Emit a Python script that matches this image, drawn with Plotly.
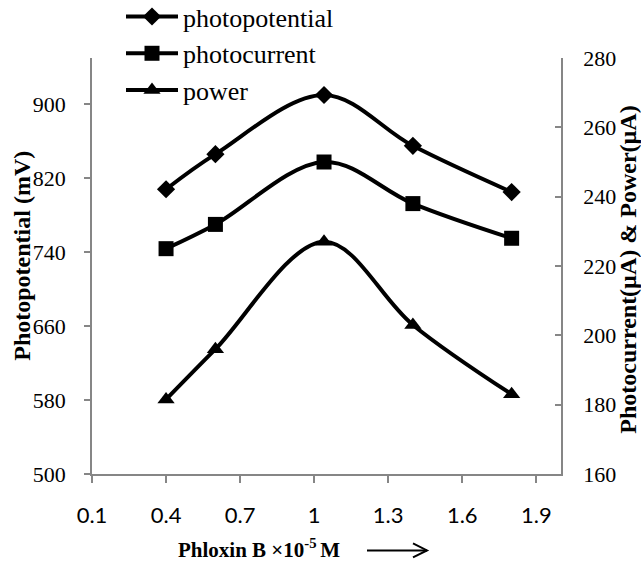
import plotly.graph_objects as go

# ---- data ----
conc = [0.4, 0.6, 1.04, 1.4, 1.8]
photopotential = [808, 846, 910, 855, 805]
photocurrent = [225, 232, 250, 238, 228]
power = [181.5, 196, 227, 203, 183]

x_ticks = [0.1, 0.4, 0.7, 1.0, 1.3, 1.6, 1.9]
x_ticktext = ["0.1", "0.4", "0.7", "1", "1.3", "1.6", "1.9"]
y_left_ticks = [500, 580, 660, 740, 820, 900]
y_right_ticks = [160, 180, 200, 220, 240, 260, 280]

AX = "#868686"
SERIF = "Liberation Serif"

fig = go.Figure()
line_style = dict(color="black", width=4, shape="spline", smoothing=1.0)
fig.add_trace(go.Scatter(x=conc, y=photopotential, name="photopotential",
                         mode="lines+markers", line=line_style,
                         marker=dict(symbol="diamond", size=14, color="black")))
fig.add_trace(go.Scatter(x=conc, y=photocurrent, name="photocurrent", yaxis="y2",
                         mode="lines+markers", line=line_style,
                         marker=dict(symbol="square", size=15, color="black")))
fig.add_trace(go.Scatter(x=conc, y=power, name="power", yaxis="y2",
                         mode="lines+markers", line=line_style,
                         marker=dict(symbol="triangle-up", size=15, color="black")))

L, R, T, B = 92, 80, 58, 87.5
W, H = 641, 562
pw = W - L - R
ph = H - T - B

def px(x):
    return (x - L) / pw

def py(y):
    return (H - B - y) / ph

fig.update_layout(
    width=W, height=H,
    margin=dict(l=L, r=R, t=T, b=B, autoexpand=False),
    paper_bgcolor="white", plot_bgcolor="white",
    showlegend=True,
    legend=dict(x=px(121), y=py(-7), xanchor="left", yanchor="top",
                font=dict(family=SERIF, size=26, color="black"),
                bgcolor="rgba(0,0,0,0)", itemwidth=52, tracegroupgap=0),
    xaxis=dict(range=[0.1, 2.0], tickvals=x_ticks, ticktext=x_ticktext,
               showline=True, linecolor=AX, linewidth=1.5,
               ticks="outside", ticklen=7, tickcolor=AX, tickwidth=1.5,
               showgrid=False, zeroline=False,
               tickfont=dict(family="Lato", size=22, color="black"),
               ticklabelstandoff=14),
    yaxis=dict(range=[500, 950], tickvals=y_left_ticks,
               showline=True, linecolor=AX, linewidth=1.5,
               ticks="outside", ticklen=6, tickcolor=AX, tickwidth=1.5,
               showgrid=False, zeroline=False,
               tickfont=dict(family=SERIF, size=22, color="black"),
               ticklabelstandoff=14),
    yaxis2=dict(range=[160, 280], tickvals=y_right_ticks, overlaying="y", side="right",
                showline=True, linecolor=AX, linewidth=1.5,
                ticks="inside", ticklen=6, tickcolor=AX, tickwidth=1.5,
                showgrid=False, zeroline=False,
                tickfont=dict(family=SERIF, size=22, color="black"),
                ticklabelstandoff=16),
)

fig.add_annotation(text="<b>Photopotential (mV)</b>", xref="paper", yref="paper",
                   x=px(22), y=py(256), textangle=-90, showarrow=False,
                   xanchor="center", yanchor="middle",
                   font=dict(family=SERIF, size=24, color="black"))
fig.add_annotation(text="<b>Photocurrent(µA) & Power(µA)</b>", xref="paper", yref="paper",
                   x=px(628), y=py(270), textangle=-90, showarrow=False,
                   xanchor="center", yanchor="middle",
                   font=dict(family=SERIF, size=24, color="black"))
fig.add_annotation(text="<b>Phloxin B ×10<sup>-5 </sup>M</b>", xref="paper", yref="paper",
                   x=px(259), y=py(549), showarrow=False,
                   xanchor="center", yanchor="middle",
                   font=dict(family=SERIF, size=21, color="black"))

# arrow after the x title
fig.add_shape(type="line", xref="paper", yref="paper",
              x0=px(367), y0=py(551), x1=px(427), y1=py(551),
              line=dict(color="black", width=2))
fig.add_shape(type="path", xref="paper", yref="paper",
              path=f"M {px(413)},{py(544)} L {px(427)},{py(551)} L {px(413)},{py(558)}",
              line=dict(color="black", width=2))

fig.write_html("out.html")
